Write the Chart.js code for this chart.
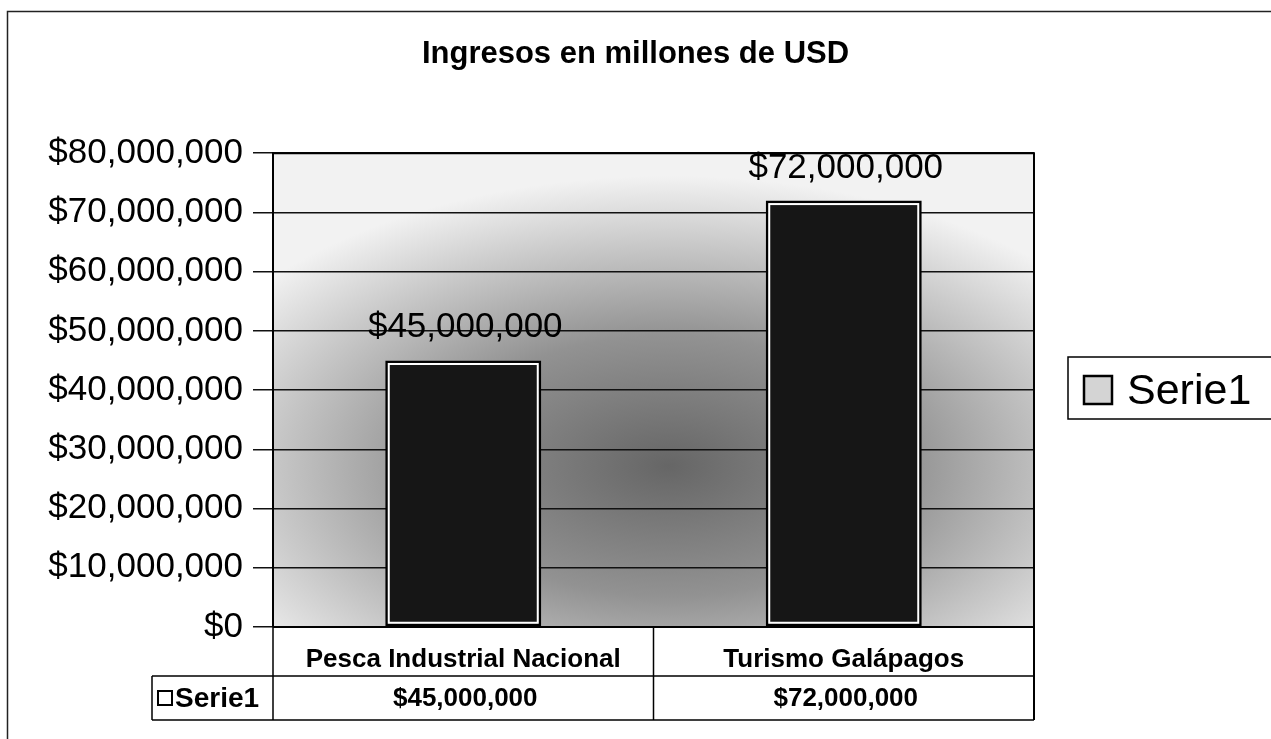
<!DOCTYPE html>
<html>
<head>
<meta charset="utf-8">
<title>Ingresos en millones de USD</title>
<script src="https://cdn.jsdelivr.net/npm/chart.js@4.4.1/dist/chart.umd.min.js"></script>
<style>
  html, body { margin: 0; padding: 0; background: #fff; }
  canvas { display: block; }
</style>
</head>
<body>
<canvas id="ingresosChart" width="1271" height="739"></canvas>
<script>
const chartTitle = "Ingresos en millones de USD";
const categories = ["Pesca Industrial Nacional", "Turismo Galápagos"];
const serieName = "Serie1";
const serieValues = [45000000, 72000000];
const yTickValues = [0, 10000000, 20000000, 30000000, 40000000, 50000000, 60000000, 70000000, 80000000];

const FONT = "'Liberation Sans', Arial, Helvetica, sans-serif";
Chart.defaults.font.family = FONT;
Chart.defaults.color = "#000";

function formatUSD(v) {
  return "$" + Number(v).toLocaleString("en-US");
}

// white page + shaded plot area
const backgroundPlugin = {
  id: "background",
  beforeDraw(chart) {
    const ctx = chart.ctx;
    const ca = chart.chartArea;
    ctx.save();
    ctx.fillStyle = "#fff";
    ctx.fillRect(0, 0, chart.width, chart.height);

    ctx.beginPath();
    ctx.rect(ca.left, ca.top, ca.width, ca.height);
    ctx.clip();
    ctx.fillStyle = "#f2f2f2";
    ctx.fillRect(ca.left, ca.top, ca.width, ca.height);

    const cx = ca.left + ca.width * 0.52;
    const cy = ca.top + ca.height * 0.66;
    ctx.translate(cx, cy);
    ctx.scale(1.8, 1);
    const g = ctx.createRadialGradient(0, 0, 0, 0, 0, 290);
    g.addColorStop(0, "#666");
    g.addColorStop(0.45, "#929292");
    g.addColorStop(0.75, "#c6c6c6");
    g.addColorStop(1, "rgba(242,242,242,1)");
    ctx.fillStyle = g;
    ctx.fillRect(-1000, -1000, 2000, 2000);
    ctx.restore();
  }
};

// white inner line on the bars and the value labels above them
const barLabelPlugin = {
  id: "barLabels",
  afterDatasetsDraw(chart) {
    const ctx = chart.ctx;
    const meta = chart.getDatasetMeta(0);
    ctx.save();
    meta.data.forEach((bar, i) => {
      const p = bar.getProps(["x", "y", "base", "width"], true);
      const left = p.x - p.width / 2;
      ctx.strokeStyle = "#fff";
      ctx.lineWidth = 2;
      ctx.strokeRect(left + 3.5, p.y + 3.5, p.width - 7, p.base - p.y - 7);

      ctx.fillStyle = "#000";
      ctx.font = "35px " + FONT;
      ctx.textAlign = "center";
      ctx.textBaseline = "alphabetic";
      ctx.fillText(formatUSD(chart.data.datasets[0].data[i]), p.x + 2, p.y - 23);
    });
    ctx.restore();
  }
};

// plot frame, data table, legend and outer border
const framePlugin = {
  id: "frame",
  afterDraw(chart) {
    const ctx = chart.ctx;
    const ca = chart.chartArea;
    const xs = chart.scales.x;
    const ds = chart.data.datasets[0];
    const rowTop = ca.bottom;
    const rowMid = 676;
    const rowBot = 720;
    const tableLeft = 152;

    ctx.save();
    ctx.strokeStyle = "#000";
    ctx.lineWidth = 2;
    ctx.beginPath();
    ctx.moveTo(ca.left, ca.top);
    ctx.lineTo(ca.right, ca.top);
    ctx.lineTo(ca.right, rowBot);
    ctx.moveTo(ca.left, ca.bottom);
    ctx.lineTo(ca.right, ca.bottom);
    ctx.stroke();

    // table grid
    ctx.lineWidth = 1.5;
    ctx.beginPath();
    ctx.moveTo(ca.left, rowTop);
    ctx.lineTo(ca.left, rowBot);
    const mid = (xs.getPixelForTick(0) + xs.getPixelForTick(1)) / 2;
    ctx.moveTo(mid, rowTop);
    ctx.lineTo(mid, rowBot);
    ctx.moveTo(tableLeft, rowMid);
    ctx.lineTo(ca.right, rowMid);
    ctx.moveTo(tableLeft, rowBot);
    ctx.lineTo(ca.right, rowBot);
    ctx.moveTo(tableLeft, rowMid);
    ctx.lineTo(tableLeft, rowBot);
    ctx.stroke();

    // series row
    const rowY = (rowMid + rowBot) / 2;
    ctx.lineWidth = 2;
    ctx.strokeRect(158, rowY - 7, 14, 14);
    ctx.fillStyle = "#000";
    ctx.font = "bold 28px " + FONT;
    ctx.textAlign = "left";
    ctx.textBaseline = "middle";
    ctx.fillText(ds.label, 175, rowY + 1);
    ctx.font = "bold 26px " + FONT;
    ctx.textAlign = "center";
    ds.data.forEach((v, i) => {
      ctx.fillText(formatUSD(v), xs.getPixelForTick(i) + 2, rowY + 1);
    });

    // legend
    ctx.lineWidth = 1.5;
    ctx.fillStyle = "#fff";
    ctx.fillRect(1068, 357, 220, 62);
    ctx.strokeRect(1068, 357, 220, 62);
    ctx.fillStyle = "#d4d4d4";
    ctx.fillRect(1084, 376, 28, 28);
    ctx.lineWidth = 2.5;
    ctx.strokeRect(1084, 376, 28, 28);
    ctx.fillStyle = "#000";
    ctx.font = "43px " + FONT;
    ctx.textAlign = "left";
    ctx.textBaseline = "alphabetic";
    ctx.fillText(ds.label, 1127, 404);

    // outer border
    ctx.lineWidth = 1.5;
    ctx.strokeStyle = "#222";
    ctx.strokeRect(7.5, 11.5, chart.width + 20, chart.height + 20);
    ctx.restore();
  }
};

new Chart(document.getElementById("ingresosChart"), {
  type: "bar",
  data: {
    labels: categories,
    datasets: [{
      label: serieName,
      data: serieValues,
      backgroundColor: "#161616",
      borderColor: "#000",
      borderWidth: 3,
      borderSkipped: false,
      categoryPercentage: 1,
      barPercentage: 0.41
    }]
  },
  options: {
    responsive: false,
    animation: false,
    layout: { padding: { left: 0, right: 0, top: 0, bottom: 0 } },
    plugins: {
      legend: { display: false },
      tooltip: { enabled: false },
      title: {
        display: true,
        text: chartTitle,
        color: "#000",
        font: { size: 31, weight: "bold" },
        padding: { top: 36, bottom: 80 }
      }
    },
    scales: {
      x: {
        grid: { display: false },
        border: { display: false },
        ticks: {
          font: { size: 26, weight: "bold" },
          color: "#000",
          padding: 9,
          maxRotation: 0,
          autoSkip: false
        },
        afterFit(scale) { scale.height = 112; }
      },
      y: {
        min: 0,
        max: 80000000,
        afterBuildTicks(scale) {
          scale.ticks = yTickValues.map(v => ({ value: v }));
        },
        grid: { color: "#111", lineWidth: 1.5, tickLength: 20, drawTicks: true },
        border: { color: "#000", width: 2 },
        ticks: {
          font: { size: 35 },
          color: "#000",
          padding: 10,
          callback: v => formatUSD(v)
        },
        afterFit(scale) { scale.width = 273; }
      },
      yRight: {
        position: "right",
        display: true,
        grid: { display: false },
        border: { display: false },
        ticks: { display: false },
        afterFit(scale) { scale.width = 237; }
      }
    }
  },
  plugins: [backgroundPlugin, barLabelPlugin, framePlugin]
});
</script>
</body>
</html>
